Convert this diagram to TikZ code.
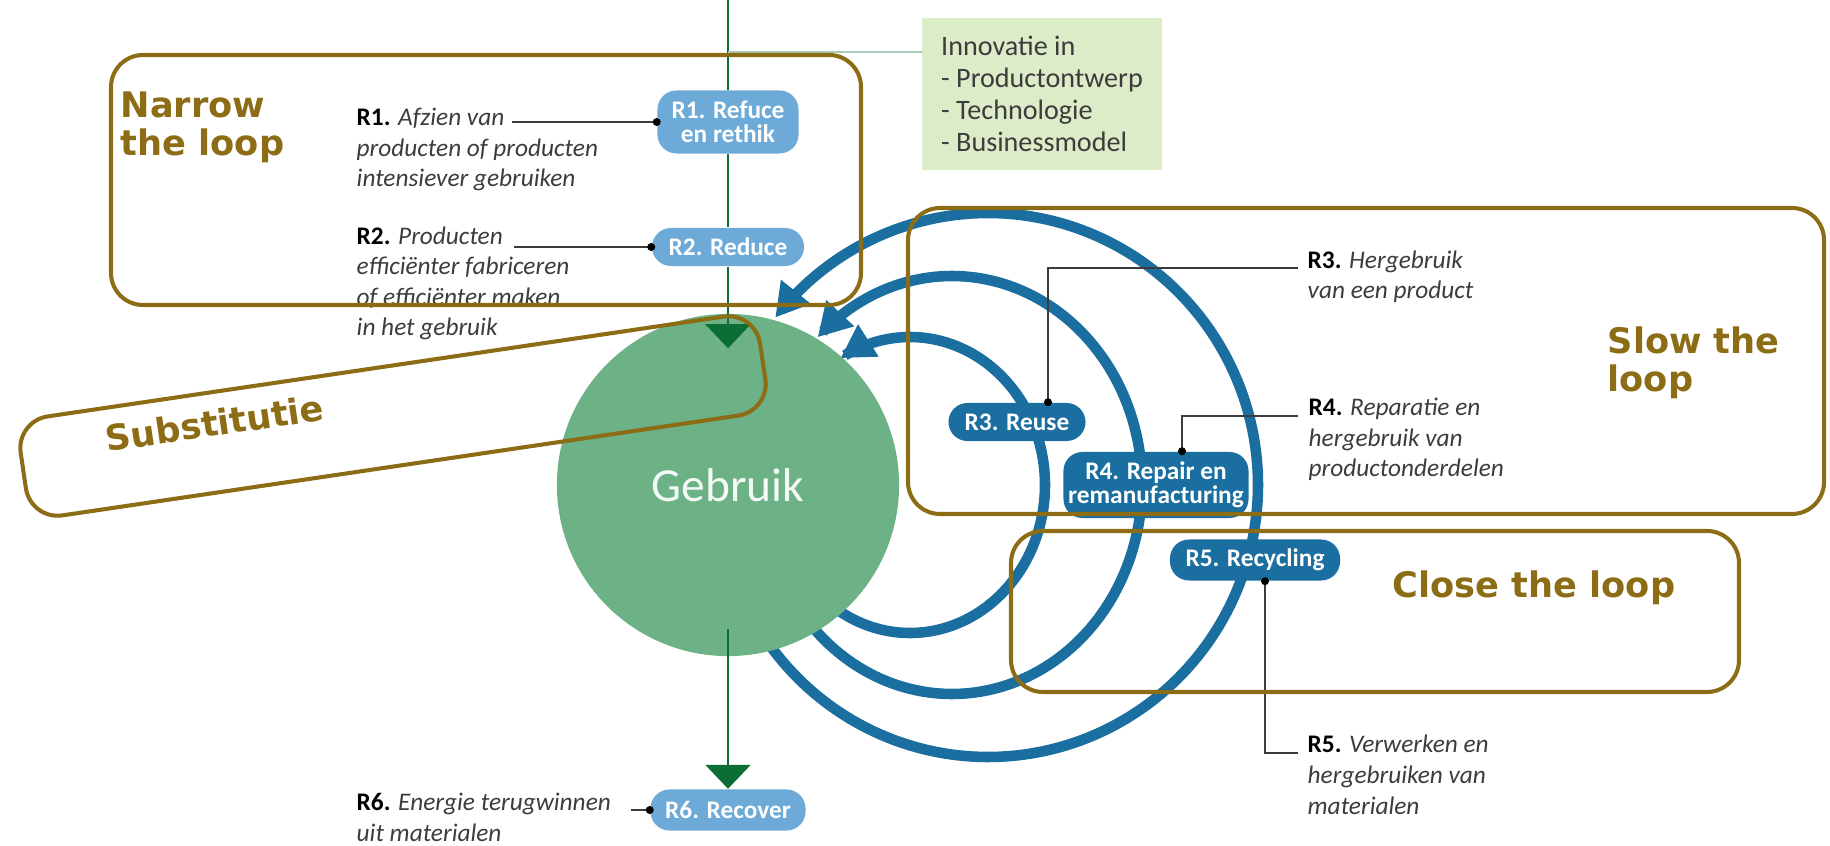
\documentclass[tikz,border=0pt]{standalone}
\usepackage{fontspec}
\setmainfont{Carlito}
\newfontfamily\kopfont{DejaVu Sans}
\usetikzlibrary{arrows.meta,positioning}

\definecolor{goud}{RGB}{140,108,20}
\definecolor{ringblauw}{RGB}{27,110,160}
\definecolor{lichtblauw}{RGB}{110,170,215}
\definecolor{cirkelgroen}{RGB}{108,178,134}
\definecolor{pijlgroen}{RGB}{12,110,52}
\definecolor{innogroen}{RGB}{220,235,200}
\definecolor{tekstgrijs}{RGB}{60,60,60}

\newcommand{\rnr}[1]{{\upshape\bfseries\color{black}#1}}

\pgfdeclarelayer{ringen}
\pgfdeclarelayer{lijnen}
\pgfdeclarelayer{boven}
\pgfsetlayers{ringen,main,lijnen,boven}

\tikzset{
  lus/.style={draw=goud, line width=1.15pt, rounded corners=0.32cm},
  luskop/.style={text=goud, font=\kopfont\bfseries\fontsize{10}{11}\selectfont, align=left, inner sep=0pt, anchor=base west},
  rlicht/.style={fill=lichtblauw, rounded corners=0.19cm, text=white, font=\bfseries\fontsize{7.2}{6.9}\selectfont, align=center, inner sep=0pt},
  rdonker/.style={rlicht, fill=ringblauw},
  uitleg/.style={text=tekstgrijs, font=\itshape\fontsize{7.2}{8.7}\selectfont, align=left, anchor=base west, inner sep=0pt},
  ring/.style={draw=ringblauw, line width=3pt, -{Triangle[length=3.3mm,width=3.6mm]}},
  groenlijn/.style={draw=pijlgroen, line width=0.8pt},
  stroom/.style={groenlijn, -{Triangle[length=2.4mm,width=4.5mm]}},
  lijntje/.style={draw=tekstgrijs, line width=0.5pt},
  stip/.style={circle, fill=black, inner sep=0pt, minimum size=0.08cm},
}

\begin{document}
\begin{tikzpicture}[x=0.01cm, y=-0.01cm]
  \useasboundingbox (0,0) rectangle (1830,846);
  % Ringen
  \begin{pgfonlayer}{ringen}
    \foreach \cx/\rx/\ry/\van/\tot in {910/135/148/125/-121, 952/190/209/140/-135, 988/270/272/146/-142}
      \draw[ring] plot[domain=\van:\tot, samples=90, smooth] ({\cx+\rx*cos(\x)},{485+\ry*sin(\x)});
  \end{pgfonlayer}
  % Gebruik
  \node[circle, fill=cirkelgroen, minimum size=3.42cm, inner sep=0pt, text=white!92!cirkelgroen,
        font=\fontsize{13.5}{16}\selectfont] (gebruik) at (728,485) {Gebruik};

  \begin{pgfonlayer}{boven}
    % R-knopen
    \node[rlicht, minimum width=1.41cm, minimum height=0.63cm] (r1) at (728,122) {R1. Refuce\\en rethik};
    \node[rlicht, minimum width=1.52cm, minimum height=0.38cm] (r2) at (728,247) {R2. Reduce};
    \node[rdonker, minimum width=1.37cm, minimum height=0.38cm] (r3) at (1017,422) {R3. Reuse};
    \node[rdonker, minimum width=1.85cm, minimum height=0.66cm] (r4) at (1156,485) {R4. Repair en\\remanufacturing};
    \node[rdonker, minimum width=1.70cm, minimum height=0.41cm] (r5) at (1255,560) {R5. Recycling};
    \node[rlicht, minimum width=1.55cm, minimum height=0.41cm] (r6) at (728,810) {R6. Recover};

    % Innovatie
    \node[fill=innogroen, text=tekstgrijs, minimum width=2.4cm, inner ysep=0pt,
          minimum height=1.52cm, align=left, font=\fontsize{8}{9.1}\selectfont] (inno) at (1042,94)
          {Innovatie in\\- Productontwerp\\- Technologie\\- Businessmodel};

    % Uitleg (anker op de laatste regel)
    \node[uitleg] (r1tekst) at (356,187) {\rnr{R1.} Afzien van\\producten of producten\\intensiever gebruiken};
    \node[uitleg] (r2tekst) at (356,336) {\rnr{R2.} Producten\\efficiënter fabriceren\\of efficiënter maken\\in het gebruik};
    \node[uitleg] (r3tekst) at (1307,299) {\rnr{R3.} Hergebruik\\van een product};
    \node[uitleg] (r4tekst) at (1308,477) {\rnr{R4.} Reparatie en\\hergebruik van\\productonderdelen};
    \node[uitleg] (r5tekst) at (1307,814) {\rnr{R5.} Verwerken en\\hergebruiken van\\materialen};
    \node[uitleg] (r6tekst) at (356,841) {\rnr{R6.} Energie terugwinnen\\uit materialen};

    % Lijntjes naar de knopen
    \coordinate (r1eind) at (512,122);
    \coordinate (r2eind) at (514,247);
    \coordinate (r3knik) at (1048,268);
    \coordinate (r3eind) at (1298,268);
    \coordinate (r4knik) at (1182,416);
    \coordinate (r4eind) at (1298,416);
    \coordinate (r5knik) at (1265,753);
    \coordinate (r5eind) at (1298,753);
    \coordinate (r6eind) at (631,810);
    \draw[lijntje] (r1eind) -- (r1.west) node[stip]{};
    \draw[lijntje] (r2eind) -- (r2.west) node[stip]{};
    \draw[lijntje] (r3.north -| r3knik) node[stip]{} -- (r3knik) -- (r3eind);
    \draw[lijntje] (r4.north -| r4knik) node[stip]{} -- (r4knik) -- (r4eind);
    \draw[lijntje] (r5.south -| r5knik) node[stip]{} -- (r5knik) -- (r5eind);
    \draw[lijntje] (r6eind) -- (r6.west) node[stip]{};

    % Lussen
    \draw[lus] (111,55) rectangle (861,305);
    \draw[lus] (908,208) rectangle (1824,514);
    \draw[lus] (1011,531) rectangle (1739,692);
    \node[lus, rotate=8.4, minimum width=7.47cm, minimum height=1cm, inner sep=0pt] (substvak) at (393,416) {};
    \node[luskop] (narrowtxt) at (120,156) {Narrow\\the loop};
    \node[luskop] (slowtxt) at (1607,392) {Slow the\\loop};
    \node[luskop] (closetxt) at (1392,597) {Close the loop};
    \node[luskop, rotate=8.4] (substtxt) at (107,452) {Substitutie};
  \end{pgfonlayer}

  % Hoofdstroom
  \begin{pgfonlayer}{lijnen}
    \coordinate (bron) at (728,0);
    \coordinate (aftak) at (728,52);
    \draw[groenlijn] (bron) -- (r1);
    \draw[groenlijn] (r1) -- (r2);
    \draw[stroom, shorten >=-0.35cm] (r2) -- (gebruik);
    \draw[stroom, shorten <=-0.28cm] (gebruik) -- (r6);
    \draw[draw=pijlgroen!35, line width=0.6pt, shorten >=-0.15cm] (aftak) -- (aftak -| inno.west);
  \end{pgfonlayer}
\end{tikzpicture}
\end{document}
